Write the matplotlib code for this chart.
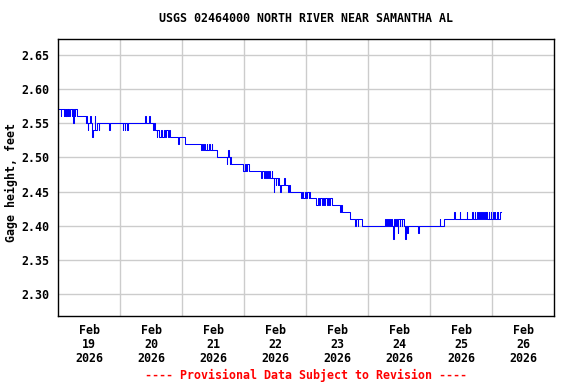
import numpy as np
import pandas as pd
import matplotlib
matplotlib.use("Agg")
import matplotlib.pyplot as plt

# gage height: hours after 2026-02-19 00:00 where the value changes
change_hours = [
    0.25, 1.0, 1.25, 2.25, 2.5, 2.75, 3.0, 3.25, 3.5, 3.75, 4.0, 4.25, 4.5, 5.25, 5.5, 5.75, 6.0, 6.5, 6.75, 7.5,
    10.75, 11.0, 11.25, 11.5, 11.75, 12.5, 12.75, 13.0, 13.25, 13.5, 14.25, 14.5, 15.25, 15.75, 16.0,
    19.75, 20.25, 25.0, 25.25, 25.75, 26.0, 26.75, 27.0, 33.75, 34.0, 35.25, 35.75,
    36.75, 37.25, 37.5, 38.25, 38.5, 39.0, 40.0, 40.25, 41.0, 41.5, 41.75, 42.5, 43.0, 43.5, 46.5, 46.75, 49.0,
    55.5, 55.75, 56.25, 56.5, 57.0, 57.5, 57.75, 58.5, 58.75, 59.5, 59.75, 61.5, 65.25, 65.5, 65.75, 66.0,
    66.5, 66.75, 67.0,
    71.75, 72.25, 72.75, 73.0, 73.75,
    78.75, 79.0, 79.75, 80.0, 80.5, 80.75, 81.25, 81.75, 82.0, 82.75, 83.0, 83.5, 83.75, 84.25, 84.5, 85.0,
    85.25, 85.5, 86.0, 86.25, 87.5, 87.75, 89.0, 89.25, 89.75,
    94.25, 94.5, 95.0, 95.5, 96.0, 96.25, 97.0, 97.25, 97.5,
    100.0, 100.5, 101.0, 101.25, 102.0, 102.5, 103.0, 103.5, 104.0, 104.5, 105.0, 105.25, 106.0,
    109.0, 109.5, 109.75, 113.0, 115.0, 115.25, 116.0, 116.25, 117.5,
    126.5, 127.0, 127.25, 127.75, 128.0, 128.5, 128.75, 129.25, 129.75, 130.0, 130.5, 130.75, 131.25, 131.5,
    131.75, 132.25, 132.5, 133.0, 133.25, 133.75, 134.5, 134.75, 135.0, 135.5,
    139.25, 139.75, 147.75, 148.0, 149.5,
    153.25, 153.5, 155.5, 155.75, 158.25, 158.5, 160.25, 160.5, 161.25, 161.5, 162.25, 162.5, 163.0, 163.25,
    163.75, 164.0, 164.5, 164.75, 165.25, 165.5, 165.75, 166.0, 166.75, 167.0, 167.5, 167.75, 168.5, 168.75,
    169.0, 169.25, 169.75, 170.0, 170.25, 170.5, 171.25, 171.5,
]
gage_ft = [
    2.57, 2.56, 2.57, 2.56, 2.57, 2.56, 2.57, 2.56, 2.57, 2.56, 2.57, 2.56, 2.57, 2.56, 2.57, 2.55, 2.57, 2.56, 2.57, 2.56,
    2.55, 2.56, 2.55, 2.54, 2.55, 2.56, 2.55, 2.54, 2.53, 2.54, 2.56, 2.54, 2.55, 2.54, 2.55,
    2.54, 2.55, 2.54, 2.55, 2.54, 2.55, 2.54, 2.55, 2.56, 2.55, 2.56, 2.55,
    2.54, 2.55, 2.54, 2.53, 2.54, 2.53, 2.54, 2.53, 2.54, 2.53, 2.54, 2.53, 2.54, 2.53, 2.52, 2.53, 2.52,
    2.51, 2.52, 2.51, 2.52, 2.51, 2.52, 2.51, 2.52, 2.51, 2.52, 2.51, 2.50, 2.49, 2.50, 2.51, 2.50,
    2.49, 2.50, 2.49,
    2.48, 2.49, 2.48, 2.49, 2.48,
    2.47, 2.48, 2.47, 2.48, 2.47, 2.48, 2.47, 2.48, 2.47, 2.48, 2.47, 2.45, 2.47, 2.46, 2.47, 2.46,
    2.47, 2.46, 2.45, 2.46, 2.47, 2.46, 2.45, 2.46, 2.45,
    2.44, 2.45, 2.44, 2.45, 2.44, 2.45, 2.44, 2.45, 2.44,
    2.43, 2.44, 2.43, 2.44, 2.43, 2.44, 2.43, 2.44, 2.43, 2.44, 2.43, 2.44, 2.43,
    2.42, 2.43, 2.42, 2.41, 2.40, 2.41, 2.40, 2.41, 2.40,
    2.41, 2.40, 2.41, 2.40, 2.41, 2.40, 2.41, 2.40, 2.38, 2.41, 2.40, 2.41, 2.40, 2.39,
    2.41, 2.40, 2.41, 2.40, 2.41, 2.40, 2.38, 2.40, 2.39, 2.40,
    2.39, 2.40, 2.41, 2.40, 2.41,
    2.42, 2.41, 2.42, 2.41, 2.42, 2.41, 2.42, 2.41, 2.42, 2.41, 2.42, 2.41, 2.42, 2.41,
    2.42, 2.41, 2.42, 2.41, 2.42, 2.41, 2.42, 2.41, 2.42, 2.41, 2.42, 2.41, 2.42, 2.41,
    2.42, 2.41, 2.42, 2.41, 2.42, 2.41, 2.42, 2.42,
]
y_ticks = [2.30, 2.35, 2.40, 2.45, 2.50, 2.55, 2.60, 2.65]
day_labels = ["19", "20", "21", "22", "23", "24", "25", "26"]

title = "USGS 02464000 NORTH RIVER NEAR SAMANTHA AL"
footer = "---- Provisional Data Subject to Revision ----"

start = pd.Timestamp("2026-02-19 00:00")
times = start + pd.to_timedelta(change_hours, unit="h")

plt.rcParams["font.family"] = ["DejaVu Sans Mono"]
plt.rcParams["font.weight"] = "bold"
fs = 8.4

fig = plt.figure(figsize=(5.76, 3.84), dpi=100)
ax = fig.add_axes([58 / 576, 1 - 316 / 384, 496 / 576, 277 / 384])

ax.step(times, gage_ft, where="post", color="#0000ff", lw=0.75)

ax.set_xlim(start, start + pd.Timedelta(days=8))
ax.set_ylim(2.268, 2.673)

# labels at noon, grid at midnight
noon = [start + pd.Timedelta(hours=12 + 24 * i) for i in range(len(day_labels))]
ax.set_xticks(noon)
ax.set_xticklabels(["Feb\n%s\n2026" % d for d in day_labels], fontsize=fs,
                   fontweight="bold", linespacing=1.1)
ax.set_xticks([start + pd.Timedelta(days=i) for i in range(1, 8)], minor=True)
ax.set_yticks(y_ticks)
ax.set_yticklabels(["%.2f" % v for v in y_ticks], fontsize=fs, fontweight="bold")

ax.tick_params(axis="both", which="both", length=0)
ax.tick_params(axis="x", pad=6)
ax.tick_params(axis="y", pad=6)
ax.grid(False)
ax.grid(True, axis="x", which="minor", color="#cccccc", lw=1)
ax.grid(True, axis="y", which="major", color="#cccccc", lw=1)
ax.set_axisbelow(True)
for s in ax.spines.values():
    s.set_linewidth(1.0)
    s.set_color("black")

ax.set_ylabel("Gage height, feet", fontsize=fs, fontweight="bold")
ax.yaxis.set_label_coords((18 - 58) / 496, (316 - 183) / 277)
fig.text(306 / 576, 1 - 19 / 384, title, ha="center", va="center",
         fontsize=fs, fontweight="bold")
fig.text(306 / 576, 1 - 375 / 384, footer, ha="center", va="center",
         fontsize=fs, fontweight="bold", color="#ff0000")

fig.savefig("out.png", dpi=100)
plt.close(fig)
